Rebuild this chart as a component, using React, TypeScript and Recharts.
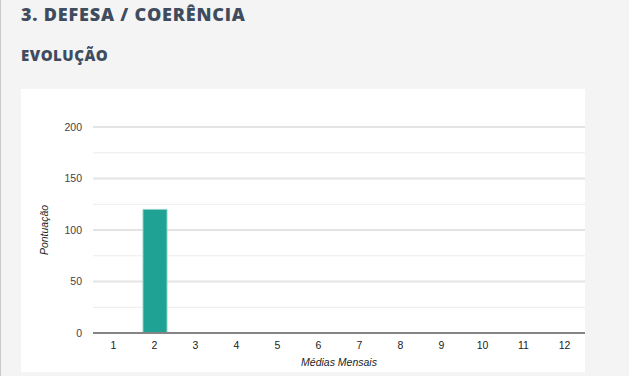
import React from 'react';
import { BarChart, Bar, XAxis, YAxis, CartesianGrid, Cell, Label } from 'recharts';

// médias mensais (1..12) e pontuação de cada mês
const meses = ['1', '2', '3', '4', '5', '6', '7', '8', '9', '10', '11', '12'];
const pontuacao = [0, 120, 0, 0, 0, 0, 0, 0, 0, 0, 0, 0];
const yTicks = [0, 50, 100, 150, 200];
const minorLines = [25, 75, 125, 175];
const majorLines = [50, 100, 150, 200];

const data = meses.map((m, i) => ({ mes: m, valor: pontuacao[i] }));

const TEAL = '#1fa293';
const tickFont = { fontFamily: '"Liberation Sans", Arial, sans-serif', fontSize: 10.5 };

const YLabel = ({ viewBox }: any) => {
  const cx = 44 - 21;
  const cy = viewBox.y + viewBox.height / 2;
  return (
    <text
      x={cx}
      y={cy}
      transform={`rotate(-90 ${cx} ${cy})`}
      textAnchor="middle"
      dominantBaseline="central"
      fill="#222"
      fontStyle="italic"
      {...tickFont}
    >
      Pontuação
    </text>
  );
};

const App = () => {
  return (
    <div
      style={{
        position: 'absolute',
        left: 0,
        top: 0,
        width: 629,
        height: 376,
        background: '#f4f4f4',
        borderLeft: '1px solid #c9c9c9',
        boxSizing: 'border-box',
        overflow: 'hidden',
      }}
    >
      <div
        style={{
          position: 'absolute',
          left: 20,
          top: 2,
          fontFamily: '"Open Sans", sans-serif',
          fontWeight: 800,
          fontSize: 18,
          color: '#3f4c5e',
          letterSpacing: 0.8,
        }}
      >
        3. DEFESA / COERÊNCIA
      </div>
      <div
        style={{
          position: 'absolute',
          left: 20,
          top: 45,
          fontFamily: '"Open Sans", sans-serif',
          fontWeight: 800,
          fontSize: 15,
          color: '#3f4c5e',
          letterSpacing: 0.5,
        }}
      >
        EVOLUÇÃO
      </div>
      <div style={{ position: 'absolute', left: 20, top: 89, background: '#fff' }}>
        <BarChart
          width={564}
          height={283}
          data={data}
          margin={{ top: 38, right: 0, bottom: 0, left: 0 }}
          barCategoryGap={0}
        >
          <CartesianGrid
            vertical={false}
            horizontalValues={minorLines}
            stroke="#ececec"
            strokeWidth={1}
          />
          <CartesianGrid
            vertical={false}
            horizontalValues={majorLines}
            stroke="#e4e4e4"
            strokeWidth={2}
          />
          <XAxis
            dataKey="mes"
            height={39}
            tickLine={false}
            tickSize={0}
            tickMargin={9}
            axisLine={{ stroke: '#858585', strokeWidth: 2 }}
            tick={{ fill: '#222', ...tickFont }}
            interval={0}
          >
            <Label
              value="Médias Mensais"
              position="insideBottom"
              offset={6}
              fill="#222"
              fontStyle="italic"
              {...tickFont}
            />
          </XAxis>
          <YAxis
            width={72}
            domain={[0, 200]}
            ticks={yTicks}
            tickLine={false}
            axisLine={false}
            tickSize={0}
            tickMargin={11}
            tick={{ fill: '#444', ...tickFont }}
          >
            <Label content={<YLabel />} />
          </YAxis>
          <Bar
            dataKey="valor"
            barSize={24}
            minPointSize={1}
            isAnimationActive={false}
          >
            {data.map((d, i) => (
              <Cell
                key={`cell-${i}`}
                fill={d.valor > 0 ? TEAL : '#b9ded8'}
                stroke={d.valor > 0 ? '#8dd2c8' : 'none'}
                strokeWidth={1}
              />
            ))}
          </Bar>
        </BarChart>
      </div>
    </div>
  );
};

export default App;
